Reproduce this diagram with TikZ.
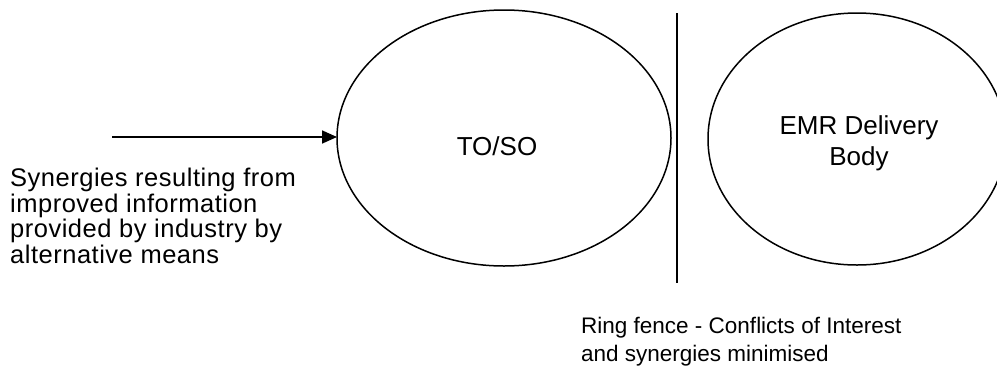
\documentclass[tikz,border=0pt]{standalone}
\usepackage{fontspec}
\setmainfont{Liberation Sans}
\newfontfamily\widesans[LetterSpace=2]{Liberation Sans}
\usetikzlibrary{arrows.meta}
\begin{document}
\begin{tikzpicture}[x=1pt,y=-1pt,
  body/.style={draw=black, line width=1.5pt},
  lbl/.style={inner sep=0pt, align=left, anchor=base west},
  fence/.style={draw=black, line width=1.5pt},
  feed/.style={draw=black, line width=1.7pt, -{Triangle[length=15pt,width=13pt]}}]
  \useasboundingbox (0,0) rectangle (997,373);
  \fill[white] (0,0) rectangle (997,373);

  % the two bodies on either side of the ring fence
  \draw[body] (504,138) ellipse [x radius=167, y radius=128];
  \draw[body] (857,139) ellipse [x radius=149, y radius=126];
  \node[inner sep=0pt, anchor=base, font=\fontsize{26}{30}\selectfont] (toso) at (497,155) {TO/SO};
  % multi-line nodes sit on the baseline of their last line
  \node[inner sep=0pt, anchor=base, align=center, font=\fontsize{26}{30.7}\selectfont] (emr) at (859,165)
    {EMR Delivery\\Body};

  % ring fence
  \coordinate (fenceTop) at (677,13);
  \coordinate (fenceBot) at (677,283);
  \draw[fence] (fenceTop) -- (fenceBot);

  % incoming synergies
  \coordinate (feedStart) at (112,137);
  \coordinate (feedEnd) at (337,137);
  \draw[feed] (feedStart) -- (feedEnd);

  \node[lbl, font=\widesans\fontsize{25.5}{25.5}\selectfont] (syn) at (10,263)
    {Synergies resulting from\\improved information\\provided by industry by\\alternative means};
  \node[lbl, font=\fontsize{22.5}{28.7}\selectfont] (ring) at (581,361.7)
    {Ring fence - Conflicts of Interest\\and synergies minimised};
\end{tikzpicture}
\end{document}
